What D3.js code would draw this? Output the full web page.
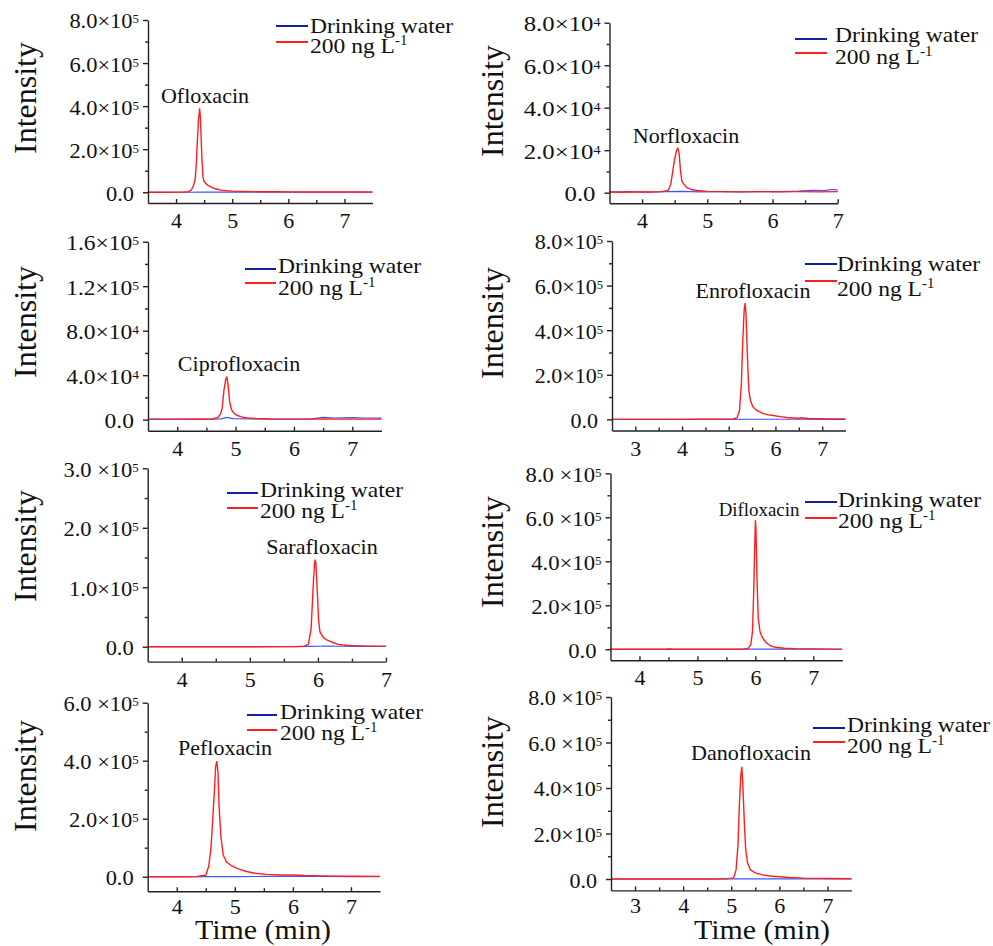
<!DOCTYPE html>
<html>
<head>
<meta charset="utf-8">
<script src="https://cdn.jsdelivr.net/npm/d3@7/dist/d3.min.js"></script>
<style>
  body { margin: 0; background: #fff; }
  text { font-family: 'Liberation Serif', 'Times New Roman', serif; fill: #111; }
</style>
</head>
<body>
<svg id="chart" width="993" height="946"></svg>
<script>
// ---- data (intensity in the units of each panel's tick labels) ----

// Ofloxacin (x1e5)
const oflo_t = [3.5, 3.8, 4.0, 4.15, 4.22, 4.27, 4.31, 4.34, 4.36, 4.38, 4.40, 4.42, 4.43, 4.44, 4.46, 4.48, 4.50, 4.53, 4.57, 4.62, 4.7, 4.8, 4.9, 5.0, 5.2, 5.5, 5.8, 6.0, 6.3, 6.6, 7.0, 7.3, 7.5]
const oflo_red = [0, 0, 0.005, 0.01, 0.03, 0.1, 0.3, 0.6, 1.3, 2.4, 3.4, 3.88, 3.6, 3.0, 1.6, 0.7, 0.5, 0.4, 0.32, 0.25, 0.16, 0.1, 0.07, 0.05, 0.035, 0.025, 0.02, 0.018, 0.014, 0.012, 0.01, 0.008, 0.006]
const oflo_bt = [3.5, 4.2, 4.5, 5.0, 5.5, 6.0, 6.5, 7.0, 7.5]
const oflo_blue = [0, 0, 0.003, 0.002, 0.003, 0.002, 0.003, 0.002, 0.002]

// Norfloxacin (x1e4)
const norf_t = [3.5, 3.7, 3.9, 4.1, 4.3, 4.4, 4.44, 4.47, 4.5, 4.53, 4.55, 4.57, 4.59, 4.61, 4.64, 4.68, 4.75, 4.85, 5.0, 5.2, 5.5, 5.8, 6.1, 6.4, 6.7, 7.0]
const norf_red = [0.03, 0.02, 0.04, 0.03, 0.05, 0.1, 0.4, 1.0, 1.6, 2.0, 2.1, 1.8, 1.0, 0.55, 0.4, 0.25, 0.15, 0.1, 0.06, 0.05, 0.04, 0.05, 0.04, 0.05, 0.04, 0.05]
const norf_bt = [3.5, 3.8, 4.1, 4.4, 4.6, 4.9, 5.2, 5.5, 5.8, 6.1, 6.4, 6.6, 6.8, 6.9, 7.0]
const norf_blue = [0.03, 0.05, 0.03, 0.05, 0.06, 0.04, 0.05, 0.04, 0.05, 0.05, 0.07, 0.11, 0.1, 0.15, 0.13]

// Ciprofloxacin (x1e4)
const cipr_t = [3.5, 3.8, 4.1, 4.4, 4.6, 4.7, 4.74, 4.77, 4.8, 4.83, 4.85, 4.87, 4.9, 4.93, 4.97, 5.02, 5.1, 5.2, 5.35, 5.6, 5.9, 6.2, 6.5, 6.8, 7.1, 7.5]
const cipr_red = [0.05, 0.03, 0.05, 0.04, 0.06, 0.2, 0.5, 1.0, 2.6, 3.6, 3.85, 3.2, 1.6, 0.9, 0.6, 0.4, 0.25, 0.15, 0.1, 0.06, 0.05, 0.05, 0.06, 0.05, 0.05, 0.05]
const cipr_bt = [3.5, 4.0, 4.5, 4.75, 4.85, 4.95, 5.3, 5.8, 6.3, 6.5, 6.7, 7.0, 7.2, 7.5]
const cipr_blue = [0.05, 0.06, 0.05, 0.08, 0.2, 0.1, 0.06, 0.05, 0.08, 0.2, 0.15, 0.18, 0.15, 0.14]

// Enrofloxacin (x1e5)
const enro_t = [2.5, 3.0, 3.5, 4.0, 4.5, 4.9, 5.1, 5.18, 5.23, 5.27, 5.3, 5.33, 5.35, 5.37, 5.4, 5.43, 5.47, 5.52, 5.6, 5.73, 5.85, 5.95, 6.1, 6.25, 6.4, 6.5, 6.55, 6.7, 6.9, 7.2, 7.5]
const enro_red = [0, 0, 0, 0, 0.005, 0.01, 0.02, 0.08, 0.4, 1.6, 3.5, 4.9, 5.2, 4.7, 2.8, 1.3, 0.8, 0.55, 0.4, 0.27, 0.2, 0.17, 0.12, 0.08, 0.06, 0.05, 0.07, 0.04, 0.03, 0.02, 0.02]
const enro_bt = [2.5, 5.0, 5.5, 6.0, 6.5, 7.0, 7.5]
const enro_blue = [0, 0, 0.005, 0.005, 0.004, 0.003, 0.003]

// Sarafloxacin (x1e5)
const sara_t = [3.5, 4.0, 4.5, 5.0, 5.4, 5.7, 5.8, 5.86, 5.9, 5.93, 5.95, 5.96, 5.97, 5.99, 6.01, 6.03, 6.07, 6.12, 6.2, 6.3, 6.45, 6.6, 6.8, 7.0]
const sara_red = [0, 0, 0, 0, 0.002, 0.005, 0.01, 0.04, 0.3, 1.0, 1.4, 1.46, 1.4, 0.95, 0.45, 0.25, 0.17, 0.12, 0.08, 0.04, 0.02, 0.015, 0.01, 0.01]
const sara_bt = [3.5, 5.5, 5.9, 6.0, 6.1, 6.3, 6.6, 7.0]
const sara_blue = [0, 0, 0.005, 0.008, 0.01, 0.008, 0.005, 0.004]

// Difloxacin (x1e5)
const difl_t = [3.5, 4.0, 4.5, 5.0, 5.5, 5.8, 5.88, 5.92, 5.95, 5.97, 5.99, 6.0, 6.01, 6.03, 6.05, 6.08, 6.11, 6.15, 6.2, 6.27, 6.35, 6.5, 6.7, 7.0, 7.3, 7.5]
const difl_red = [0, 0, 0, 0, 0.003, 0.01, 0.05, 0.2, 0.8, 2.5, 4.8, 5.85, 5.5, 3.0, 1.4, 0.8, 0.6, 0.42, 0.27, 0.15, 0.09, 0.05, 0.03, 0.02, 0.01, 0.01]
const difl_bt = [3.5, 4.45, 4.52, 4.6, 5.0, 5.5, 6.0, 6.5, 7.0, 7.5]
const difl_blue = [0, 0, 0.02, 0, 0, 0.003, 0.005, 0.005, 0.004, 0.003]

// Pefloxacin (x1e5)
const pefl_t = [3.5, 3.8, 4.1, 4.35, 4.5, 4.55, 4.59, 4.62, 4.65, 4.67, 4.69, 4.71, 4.73, 4.76, 4.8, 4.86, 4.95, 5.05, 5.2, 5.35, 5.55, 5.8, 6.0, 6.2, 6.5, 6.8, 7.1, 7.5]
const pefl_red = [0, 0, 0, 0.005, 0.05, 0.35, 1.0, 2.0, 3.0, 3.8, 3.97, 3.6, 2.4, 1.4, 0.75, 0.5, 0.37, 0.28, 0.18, 0.12, 0.08, 0.06, 0.06, 0.04, 0.03, 0.02, 0.015, 0.01]
const pefl_bt = [3.5, 4.5, 5.0, 5.5, 6.0, 6.5, 7.0, 7.5]
const pefl_blue = [0, 0, 0.005, 0.008, 0.01, 0.008, 0.005, 0.005]

// Danofloxacin (x1e5)
const dano_t = [2.5, 3.0, 3.5, 4.0, 4.5, 4.9, 5.05, 5.1, 5.14, 5.17, 5.2, 5.22, 5.24, 5.27, 5.3, 5.34, 5.4, 5.5, 5.65, 5.8, 6.0, 6.2, 6.5, 6.8, 7.1, 7.5]
const dano_red = [0, 0, 0, 0, 0, 0.005, 0.05, 0.4, 1.5, 3.3, 4.6, 4.91, 4.2, 2.6, 1.3, 0.7, 0.4, 0.27, 0.18, 0.13, 0.1, 0.07, 0.04, 0.03, 0.02, 0.015]
const dano_bt = [2.5, 4.5, 5.0, 5.5, 6.0, 6.5, 7.0, 7.5]
const dano_blue = [0, 0, 0.003, 0.005, 0.005, 0.004, 0.003, 0.003]

// tick values / labels
const ticks8 = [0, 2, 4, 6, 8]
const labels8e5 = ['0.0', '2.0×10^5', '4.0×10^5', '6.0×10^5', '8.0×10^5']
const labels8e5sp = ['0.0', '2.0×10^5', '4.0×10^5', '6.0 ×10^5', '8.0 ×10^5']
const labels8e4 = ['0.0', '2.0×10^4', '4.0×10^4', '6.0×10^4', '8.0×10^4']
const ticksCipr = [0, 4, 8, 12, 16]
const labelsCipr = ['0.0', '4.0×10^4', '8.0×10^4', '1.2×10^5', '1.6×10^5']
const ticksSara = [0, 1, 2, 3]
const labelsSara = ['0.0', '1.0×10^5', '2.0 ×10^5', '3.0 ×10^5']
const ticksPefl = [0, 2, 4, 6]
const labelsPefl = ['0.0', '2.0×10^5', '4.0 ×10^5', '6.0 ×10^5']
const xTicksA = [4, 5, 6, 7]
const xTicksB = [3, 4, 5, 6, 7]

const legendNames = ['Drinking water', '200 ng L']

// ---- panel layout (pixel boxes of each plot) ----
const panels = [
  { name: 'Ofloxacin', t: oflo_t, red: oflo_red, bt: oflo_bt, blue: oflo_blue,
    xDomain: [3.5, 7.5], xRange: [148, 372.5], yMin: -0.5, yRange: [203, 20],
    yTicks: ticks8, yLabels: labels8e5, xTicks: xTicksA, sx: 1.07,
    peak: [205, 103, 21], yTitle: [36, 98],
    leg: { x1: 276, x2: 308, yb: 26, yr: 42, tx: 310, ty1: 33, ty2: 53 } },
  { name: 'Norfloxacin', t: norf_t, red: norf_red, bt: norf_bt, blue: norf_blue,
    xDomain: [3.5, 7], xRange: [609.5, 837.7], yMin: -0.5, yRange: [203.3, 22.7],
    yTicks: ticks8, yLabels: labels8e4, xTicks: xTicksA, sx: 1.18,
    peak: [686, 143, 21], yTitle: [503, 101],
    leg: { x1: 795, x2: 827, yb: 39, yr: 53, tx: 835, ty1: 42, ty2: 64 } },
  { name: 'Ciprofloxacin', t: cipr_t, red: cipr_red, bt: cipr_bt, blue: cipr_blue,
    xDomain: [3.5, 7.5], xRange: [148, 381.5], yMin: -1, yRange: [430.8, 241.7],
    yTicks: ticksCipr, yLabels: labelsCipr, xTicks: xTicksA, sx: 1.12,
    peak: [239, 371, 21], yTitle: [36, 322],
    leg: { x1: 245, x2: 276, yb: 269, yr: 283, tx: 278, ty1: 273, ty2: 295 } },
  { name: 'Enrofloxacin', t: enro_t, red: enro_red, bt: enro_bt, blue: enro_blue,
    xDomain: [2.5, 7.5], xRange: [612, 845.5], yMin: -0.5, yRange: [430.5, 241],
    yTicks: ticks8, yLabels: labels8e5, xTicks: xTicksB, sx: 1.05,
    peak: [753, 298, 21], yTitle: [503, 323],
    leg: { x1: 805, x2: 837, yb: 264, yr: 281, tx: 837, ty1: 271, ty2: 296 } },
  { name: 'Sarafloxacin', t: sara_t, red: sara_red, bt: sara_bt, blue: sara_blue,
    xDomain: [3.5, 7], xRange: [147.7, 386], yMin: -0.25, yRange: [661.6, 468.3],
    yTicks: ticksSara, yLabels: labelsSara, xTicks: xTicksA, sx: 1.07,
    peak: [322, 554, 21], yTitle: [36, 546],
    leg: { x1: 227, x2: 258, yb: 493, yr: 508, tx: 260, ty1: 497, ty2: 518 } },
  { name: 'Difloxacin', t: difl_t, red: difl_red, bt: difl_bt, blue: difl_blue,
    xDomain: [3.5, 7.5], xRange: [610.5, 842.3], yMin: -0.5, yRange: [660.3, 473.3],
    yTicks: ticks8, yLabels: labels8e5sp, xTicks: xTicksA, sx: 1.08,
    peak: [759, 516, 18], yTitle: [503, 552],
    leg: { x1: 805, x2: 837, yb: 502, yr: 518, tx: 838, ty1: 507, ty2: 528 } },
  { name: 'Pefloxacin', t: pefl_t, red: pefl_red, bt: pefl_bt, blue: pefl_blue,
    xDomain: [3.5, 7.5], xRange: [147.7, 380], yMin: -0.5, yRange: [891.2, 702.7],
    yTicks: ticksPefl, yLabels: labelsPefl, xTicks: xTicksA, sx: 1.07,
    peak: [225, 755, 21], yTitle: [36, 776],
    leg: { x1: 247, x2: 277, yb: 715, yr: 730, tx: 280, ty1: 719, ty2: 740 } },
  { name: 'Danofloxacin', t: dano_t, red: dano_red, bt: dano_bt, blue: dano_blue,
    xDomain: [2.5, 7.5], xRange: [611, 851.5], yMin: -0.5, yRange: [890.4, 697],
    yTicks: ticks8, yLabels: labels8e5sp, xTicks: xTicksB, sx: 1.05,
    peak: [751, 760, 21], yTitle: [503, 772],
    leg: { x1: 813, x2: 845, yb: 728, yr: 742, tx: 847, ty1: 732, ty2: 753 } }
]

const svg = d3.select('#chart')

panels.forEach((p, pi) => {
  const g = svg.append('g')
  const x = d3.scaleLinear().domain(p.xDomain).range(p.xRange)
  const y = d3.scaleLinear()
    .domain([p.yMin, p.yTicks[p.yTicks.length - 1]])
    .range(p.yRange)
  const bottomRow = pi >= 6

  const line = d3.line()
    .x(d => x(d[0]))
    .y(d => y(d[1]))

  // drinking water trace, then the spiked sample on top
  g.append('path')
    .datum(d3.zip(p.bt, p.blue))
    .attr('d', line)
    .attr('fill', 'none')
    .attr('stroke', '#3b55ff')
    .attr('stroke-width', 1.2)

  g.append('path')
    .datum(d3.zip(p.t, p.red))
    .attr('d', line)
    .attr('fill', 'none')
    .attr('stroke', '#ff1f1f')
    .attr('stroke-width', 1.4)
    .attr('stroke-linejoin', 'round')

  // y axis, ticks pointing out
  const ya = g.append('g')
    .attr('transform', `translate(${p.xRange[0]},0)`)
    .call(d3.axisLeft(y).tickValues(p.yTicks).tickSize(5).tickSizeOuter(0).tickFormat(''))
  ya.selectAll('.tick text').remove()

  const minorY = p.yTicks.slice(1).map((v, i) => (v + p.yTicks[i]) / 2)
  g.append('g')
    .attr('transform', `translate(${p.xRange[0]},0)`)
    .call(d3.axisLeft(y).tickValues(minorY).tickSize(3).tickFormat(''))
    .call(a => a.select('.domain').remove())
    .call(a => a.selectAll('.tick text').remove())

  ya.selectAll('.tick').each(function(d, i) {
    const parts = p.yLabels[i].split('^')
    const t = d3.select(this).append('text')
      .attr('transform', `translate(${parts[1] ? -9 : -14},0) scale(${p.sx},1)`)
      .attr('text-anchor', 'end')
      .attr('dy', '0.38em')
      .attr('font-size', 21)
    t.append('tspan').text(parts[0])
    if (parts[1]) {
      t.append('tspan').attr('dy', -5).attr('font-size', 12).text(parts[1])
    }
  })

  // x axis, ticks pointing in
  const xa = g.append('g')
    .attr('transform', `translate(0,${p.yRange[0]})`)
    .call(d3.axisBottom(x).tickValues(p.xTicks).tickSize(-4).tickSizeOuter(0).tickFormat(d3.format('d')))
  xa.selectAll('text')
    .attr('y', bottomRow ? 23 : 25)
    .attr('dy', 0)
    .attr('font-size', 22)
    .attr('font-family', "'Liberation Serif', serif")

  const minorX = p.xTicks.slice(1).map((v, i) => (v + p.xTicks[i]) / 2)
  g.append('g')
    .attr('transform', `translate(0,${p.yRange[0]})`)
    .call(d3.axisBottom(x).tickValues(minorX).tickSize(-3).tickFormat(''))
    .call(a => a.select('.domain').remove())
    .call(a => a.selectAll('.tick text').remove())

  g.selectAll('.domain, .tick line').attr('stroke', '#222').attr('stroke-width', 1.4)

  // axis title
  g.append('text')
    .attr('transform', `translate(${p.yTitle[0]},${p.yTitle[1]}) rotate(-90)`)
    .attr('text-anchor', 'middle')
    .attr('font-size', 32)
    .text('Intensity')

  // peak annotation
  g.append('text')
    .attr('transform', `translate(${p.peak[0]},${p.peak[1]}) scale(1.05,1)`)
    .attr('text-anchor', 'middle')
    .attr('font-size', p.peak[2])
    .text(p.name)

  // legend
  const L = p.leg
  g.append('line').attr('x1', L.x1).attr('x2', L.x2).attr('y1', L.yb).attr('y2', L.yb)
    .attr('stroke', '#1020a0').attr('stroke-width', 2)
  g.append('line').attr('x1', L.x1).attr('x2', L.x2).attr('y1', L.yr).attr('y2', L.yr)
    .attr('stroke', '#ff1f1f').attr('stroke-width', 2)
  g.append('text')
    .attr('transform', `translate(${L.tx},${L.ty1}) scale(1.07,1)`)
    .attr('font-size', 22)
    .text(legendNames[0])
  const t2 = g.append('text')
    .attr('transform', `translate(${L.tx},${L.ty2}) scale(1.07,1)`)
    .attr('font-size', 22)
  t2.append('tspan').text(legendNames[1])
  t2.append('tspan').attr('dy', -8).attr('font-size', 14).text('-1')
})

// x axis titles under the bottom row
svg.append('text')
  .attr('transform', 'translate(263,939) scale(1.07,1)')
  .attr('text-anchor', 'middle')
  .attr('font-size', 28)
  .text('Time (min)')
svg.append('text')
  .attr('transform', 'translate(762,939) scale(1.07,1)')
  .attr('text-anchor', 'middle')
  .attr('font-size', 28)
  .text('Time (min)')
</script>
</body>
</html>
